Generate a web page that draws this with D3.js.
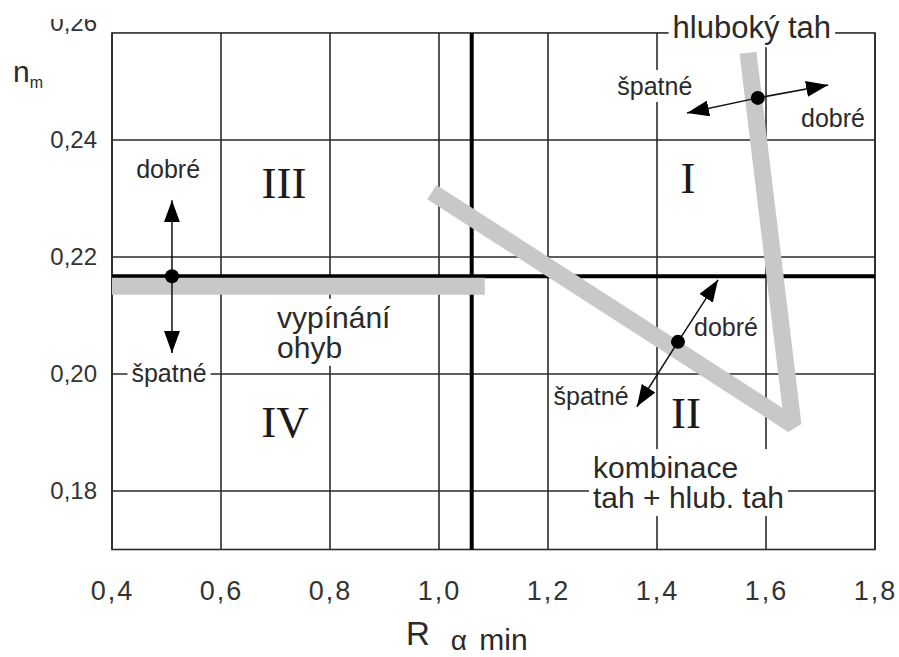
<!DOCTYPE html>
<html>
<head>
<meta charset="utf-8">
<style>
body { margin: 0; background: #fff; }
svg { display: block; font-family: "Liberation Sans", Arial, sans-serif; }
.grid line { stroke: #2a2a2a; stroke-width: 1.6; }
.frame { fill: none; stroke: #2a2a2a; stroke-width: 1.6; }
.band { fill: none; stroke: #c8c8c8; stroke-width: 17; stroke-linejoin: bevel; }
.limit { stroke: #000; stroke-width: 4; }
.arrow { stroke: #111; stroke-width: 1.5; }
.note { fill: #2a2a2a; }
.roman { font-family: "Liberation Serif", "Times New Roman", serif; fill: #1a1a1a; font-size: 45px; text-anchor: middle; }
</style>
</head>
<body>
<svg width="899" height="657"></svg>
<script src="https://d3js.org/d3.v7.min.js"></script>
<script>
// axis values
var xTicks = [0.4, 0.6, 0.8, 1.0, 1.2, 1.4, 1.6, 1.8];
var yTicks = [0.18, 0.20, 0.22, 0.24, 0.26];
var yGrid = [0.18, 0.20, 0.22, 0.24];
var xExtent = [0.4, 1.8];
var yExtent = [0.17, 0.2583];

// limits (thick lines)
var limitR = 1.06;
var limitN = 0.2167;

// grey bands
var bandBend = [[0.4, 0.215], [1.084, 0.215]];
var bandDeep = [[0.987, 0.2311], [1.6495, 0.1913], [1.567, 0.2549]];

// operating points and arrow tips
var points = [[0.51, 0.2167], [1.4385, 0.2055], [1.585, 0.2472]];
var arrowTips = [
  [0, 0.51, 0.2297], [0, 0.51, 0.2036],
  [1, 1.512, 0.2161], [1, 1.363, 0.1944],
  [2, 1.714, 0.2494], [2, 1.455, 0.2446]
];

// quadrant numerals
var quadrants = [["III", 0.7156, 0.2301], ["I", 1.4569, 0.2309], ["IV", 0.7174, 0.1892], ["II", 1.4532, 0.1908]];

// annotations: text lines, x, y(baseline), anchor, size, white background
var notes = [
  [["dobré"], 0.503, 0.2335, "middle", 25, false],
  [["špatné"], 0.5046, 0.1986, "middle", 25, true],
  [["špatné"], 1.396, 0.2477, "middle", 25, true],
  [["dobré"], 1.723, 0.2422, "middle", 25, false],
  [["dobré"], 1.5266, 0.2065, "middle", 25, false],
  [["špatné"], 1.279, 0.1947, "middle", 25, false],
  [["hluboký tah"], 1.574, 0.2574, "middle", 31, true],
  [["vypínání", "ohyb"], 0.7028, 0.2079, "start", 30, true],
  [["kombinace", "tah + hlub. tah"], 1.2826, 0.1822, "start", 30, true]
];

var svg = d3.select("svg");

var x = d3.scaleLinear().domain([0.4, 1.8]).range([112, 875]);
var y = d3.scaleLinear().domain([0.18, 0.24]).range([491, 140]);

var pLeft = x(xExtent[0]), pRight = x(xExtent[1]);
var pTop = y(yExtent[1]), pBottom = y(yExtent[0]);

var comma = d3.formatLocale({decimal: ",", thousands: " ", grouping: [3], currency: ["", ""]});

// grid
var grid = svg.append("g").attr("class", "grid");
grid.selectAll(".v").data(xTicks).enter().append("line")
  .attr("x1", d => x(d)).attr("x2", d => x(d))
  .attr("y1", pTop).attr("y2", pBottom);
grid.selectAll(".h").data(yGrid).enter().append("line")
  .attr("x1", pLeft).attr("x2", pRight)
  .attr("y1", d => y(d)).attr("y2", d => y(d));

svg.append("rect").attr("class", "frame")
  .attr("x", pLeft).attr("y", pTop)
  .attr("width", pRight - pLeft).attr("height", pBottom - pTop);

// axes (labels only)
var xAxis = svg.append("g")
  .attr("transform", "translate(0," + pBottom + ")")
  .call(d3.axisBottom(x).tickValues(xTicks).tickSize(0).tickPadding(31).tickFormat(comma.format(".1f")));
xAxis.select(".domain").remove();
xAxis.selectAll("text").attr("font-size", 27).attr("letter-spacing", 2)
  .attr("font-family", "Liberation Sans, Arial, sans-serif").attr("fill", "#333");

// the top label is cut in the original figure
svg.append("clipPath").attr("id", "ycut").append("rect")
  .attr("x", -pLeft).attr("y", 19).attr("width", pLeft).attr("height", 657);

var yAxis = svg.append("g")
  .attr("transform", "translate(" + pLeft + ",0)")
  .attr("clip-path", "url(#ycut)")
  .call(d3.axisLeft(y).tickValues(yTicks).tickSize(0).tickPadding(15).tickFormat(comma.format(".2f")));
yAxis.select(".domain").remove();
yAxis.selectAll("text").attr("font-size", 24)
  .attr("font-family", "Liberation Sans, Arial, sans-serif").attr("fill", "#333");

// axis titles
var xt = svg.append("text").attr("class", "note").attr("y", 645).attr("x", x(1.0) - 33);
xt.append("tspan").attr("font-size", 33).text("R");
xt.append("tspan").attr("font-size", 28).attr("dx", 21).attr("dy", 5).text("α");
xt.append("tspan").attr("font-size", 30).attr("dx", 4).text(" min");

var yt = svg.append("text").attr("class", "note").attr("x", 13).attr("y", 82);
yt.append("tspan").attr("font-size", 30).text("n");
yt.append("tspan").attr("font-size", 16).attr("dy", 6).text("m");

// thick limit lines
svg.append("line").attr("class", "limit")
  .attr("x1", x(limitR)).attr("x2", x(limitR)).attr("y1", pTop).attr("y2", pBottom);
svg.append("line").attr("class", "limit")
  .attr("x1", pLeft).attr("x2", pRight).attr("y1", y(limitN)).attr("y2", y(limitN));

// text with optional white box
notes.forEach(function(n) {
  var g = svg.append("g");
  var t = g.append("text").attr("class", "note")
    .attr("font-size", n[4]).attr("text-anchor", n[3]);
  n[0].forEach(function(s, i) {
    t.append("tspan").attr("x", x(n[1])).attr("y", y(n[2]) + i * 30).text(s);
  });
  if (n[5]) {
    var b = t.node().getBBox();
    g.insert("rect", "text").attr("fill", "#fff")
      .attr("x", b.x - 4).attr("y", b.y - 2)
      .attr("width", b.width + 8).attr("height", b.height + 4);
  }
});

// grey bands
var line = d3.line().x(d => x(d[0])).y(d => y(d[1]));
svg.append("path").attr("class", "band").attr("d", line(bandBend));
svg.append("path").attr("class", "band").attr("d", line(bandDeep));

// quadrant numerals
svg.selectAll(".roman").data(quadrants).enter().append("text")
  .attr("class", "roman")
  .attr("x", d => x(d[1])).attr("y", d => y(d[2]))
  .text(d => d[0]);

// arrows
svg.append("defs").append("marker")
  .attr("id", "head").attr("viewBox", "0 0 22 16")
  .attr("refX", 22).attr("refY", 8)
  .attr("markerWidth", 22).attr("markerHeight", 16)
  .attr("markerUnits", "userSpaceOnUse").attr("orient", "auto")
  .append("path").attr("d", "M0,0L22,8L0,16Z").attr("fill", "#000");

svg.selectAll(".arrow").data(arrowTips).enter().append("line")
  .attr("class", "arrow")
  .attr("x1", d => x(points[d[0]][0])).attr("y1", d => y(points[d[0]][1]))
  .attr("x2", d => x(d[1])).attr("y2", d => y(d[2]))
  .attr("marker-end", "url(#head)");

svg.selectAll(".pt").data(points).enter().append("circle")
  .attr("cx", d => x(d[0])).attr("cy", d => y(d[1])).attr("r", 7).attr("fill", "#000");
</script>
</body>
</html>
